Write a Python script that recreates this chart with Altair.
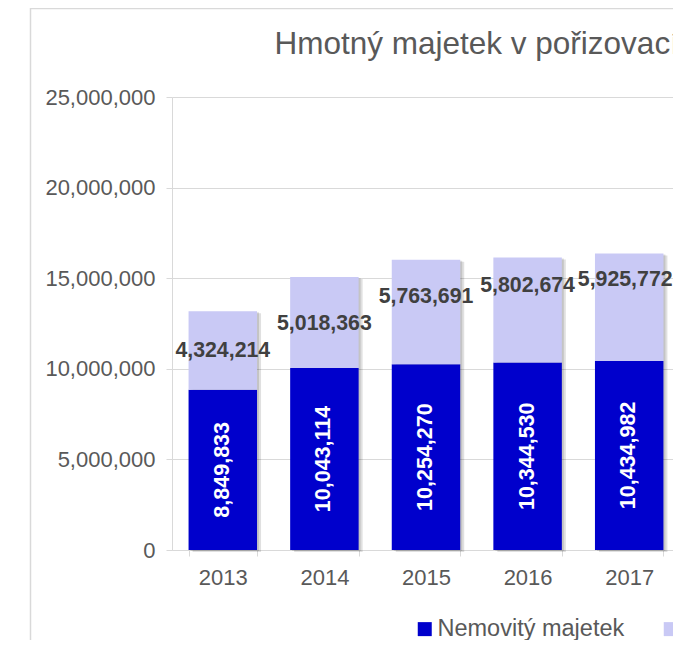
import altair as alt
import pandas as pd

years = ["2013", "2014", "2015", "2016", "2017"]
nemovity = [8849833, 10043114, 10254270, 10344530, 10434982]
movity = [4324214, 5018363, 5763691, 5802674, 5925772]
# vertical anchor (data units) of the light-segment labels as placed in the original
movity_label_at = [11.0e6, 12.45e6, 13.94e6, 14.55e6, 14.88e6]
series_names = ["Nemovitý majetek", "Movitý majetek"]
title_text = "Hmotný majetek v pořizovacích cenách"
y_ticks = [0, 5000000, 10000000, 15000000, 20000000, 25000000]

FONT = "Liberation Sans"

rows = []
for i, yr in enumerate(years):
    rows.append({"year": yr, "series": series_names[0], "start": 0, "end": nemovity[i], "order": 0})
    rows.append({"year": yr, "series": series_names[1], "start": nemovity[i],
                 "end": nemovity[i] + movity[i], "order": 1})
bars_df = pd.DataFrame(rows)

tot_df = pd.DataFrame({"year": years, "total": [a + b for a, b in zip(nemovity, movity)]})
dark_lab = pd.DataFrame({"year": years, "mid": [v / 2 for v in nemovity], "val": nemovity})
light_lab = pd.DataFrame({"year": years, "pos": movity_label_at, "val": movity})

xscale = alt.Scale(domain=years, range=[0, 508], paddingInner=0.326, paddingOuter=0.163)
yscale = alt.Scale(domain=[0, 25000000])

x_enc = alt.X("year:N", scale=xscale, sort=years,
              axis=alt.Axis(title=None, tickBand="extent", labelAngle=0, labelPadding=11,
                            tickSize=6, grid=False))
y_axis = alt.Axis(title=None, values=y_ticks, format=",d", grid=True, tickSize=6,
                  labelPadding=11)

shadow1 = alt.Chart(tot_df).mark_bar(color="#000000", opacity=0.12, xOffset=2, yOffset=1).encode(
    x=x_enc, y=alt.Y("total:Q", scale=yscale, axis=y_axis))
shadow2 = alt.Chart(tot_df).mark_bar(color="#000000", opacity=0.12, xOffset=4, yOffset=2).encode(
    x=x_enc, y=alt.Y("total:Q", scale=yscale, axis=y_axis))

bars = alt.Chart(bars_df).mark_bar().encode(
    x=x_enc,
    y=alt.Y("start:Q", scale=yscale, axis=y_axis),
    y2="end:Q",
    color=alt.Color("series:N", sort=series_names,
                    scale=alt.Scale(domain=series_names, range=["#0000CC", "#C9C9F5"]),
                    legend=alt.Legend(title=None, orient="none", legendX=241, legendY=520,
                                      direction="horizontal", symbolType="square",
                                      symbolSize=196, symbolStrokeWidth=0, symbolOpacity=1,
                                      labelFontSize=23.5, labelColor="#595959", labelFont=FONT,
                                      labelOffset=1, columnPadding=34, labelLimit=400)),
    order="order:Q",
)

dark_text = alt.Chart(dark_lab).mark_text(
    angle=270, color="white", fontWeight="bold", fontSize=21.5, font=FONT, baseline="middle",
    align="center").encode(
    x=x_enc, y=alt.Y("mid:Q", scale=yscale, axis=y_axis), text=alt.Text("val:Q", format=","))

light_text = alt.Chart(light_lab).mark_text(
    color="#404040", fontWeight="bold", fontSize=21.3, font=FONT, baseline="middle",
    align="center").encode(
    x=x_enc, y=alt.Y("pos:Q", scale=yscale, axis=y_axis), text=alt.Text("val:Q", format=","))

light_main = light_text.transform_filter(alt.datum.year != years[-1])
# the last label sits against the right edge; nudge it so it stays fully visible
light_last = light_text.mark_text(
    color="#404040", fontWeight="bold", fontSize=21.3, font=FONT, baseline="middle",
    align="center", dx=-4).transform_filter(alt.datum.year == years[-1])

title = alt.Chart(pd.DataFrame({"t": [title_text]})).mark_text(
    align="left", baseline="alphabetic", fontSize=31.5, font=FONT, color="#595959").encode(
    text="t:N", x=alt.value(102.5), y=alt.value(-43))

frame_left = alt.Chart(pd.DataFrame({"a": [0]})).mark_rule(color="#d9d9d9", strokeWidth=1.5).encode(
    x=alt.value(-141.5), y=alt.value(-89), y2=alt.value(600))
frame_top = alt.Chart(pd.DataFrame({"a": [0]})).mark_rule(color="#d9d9d9", strokeWidth=1.5).encode(
    x=alt.value(-141.5), x2=alt.value(700), y=alt.value(-88.5))

chart = alt.layer(frame_left, frame_top, shadow1, shadow2, bars, dark_text,
                  light_main, light_last, title).properties(
    width=501, height=453,
    autosize=alt.AutoSizeParams(type="none"),
    padding={"left": 164, "top": 89, "right": 0, "bottom": 90},
).configure_view(stroke=None).configure_axis(
    labelFont=FONT, labelFontSize=22, labelColor="#595959",
    domainColor="#d9d9d9", tickColor="#d9d9d9", gridColor="#d9d9d9",
)

chart.save("out.html", embed_options={"renderer": "svg", "actions": False})
